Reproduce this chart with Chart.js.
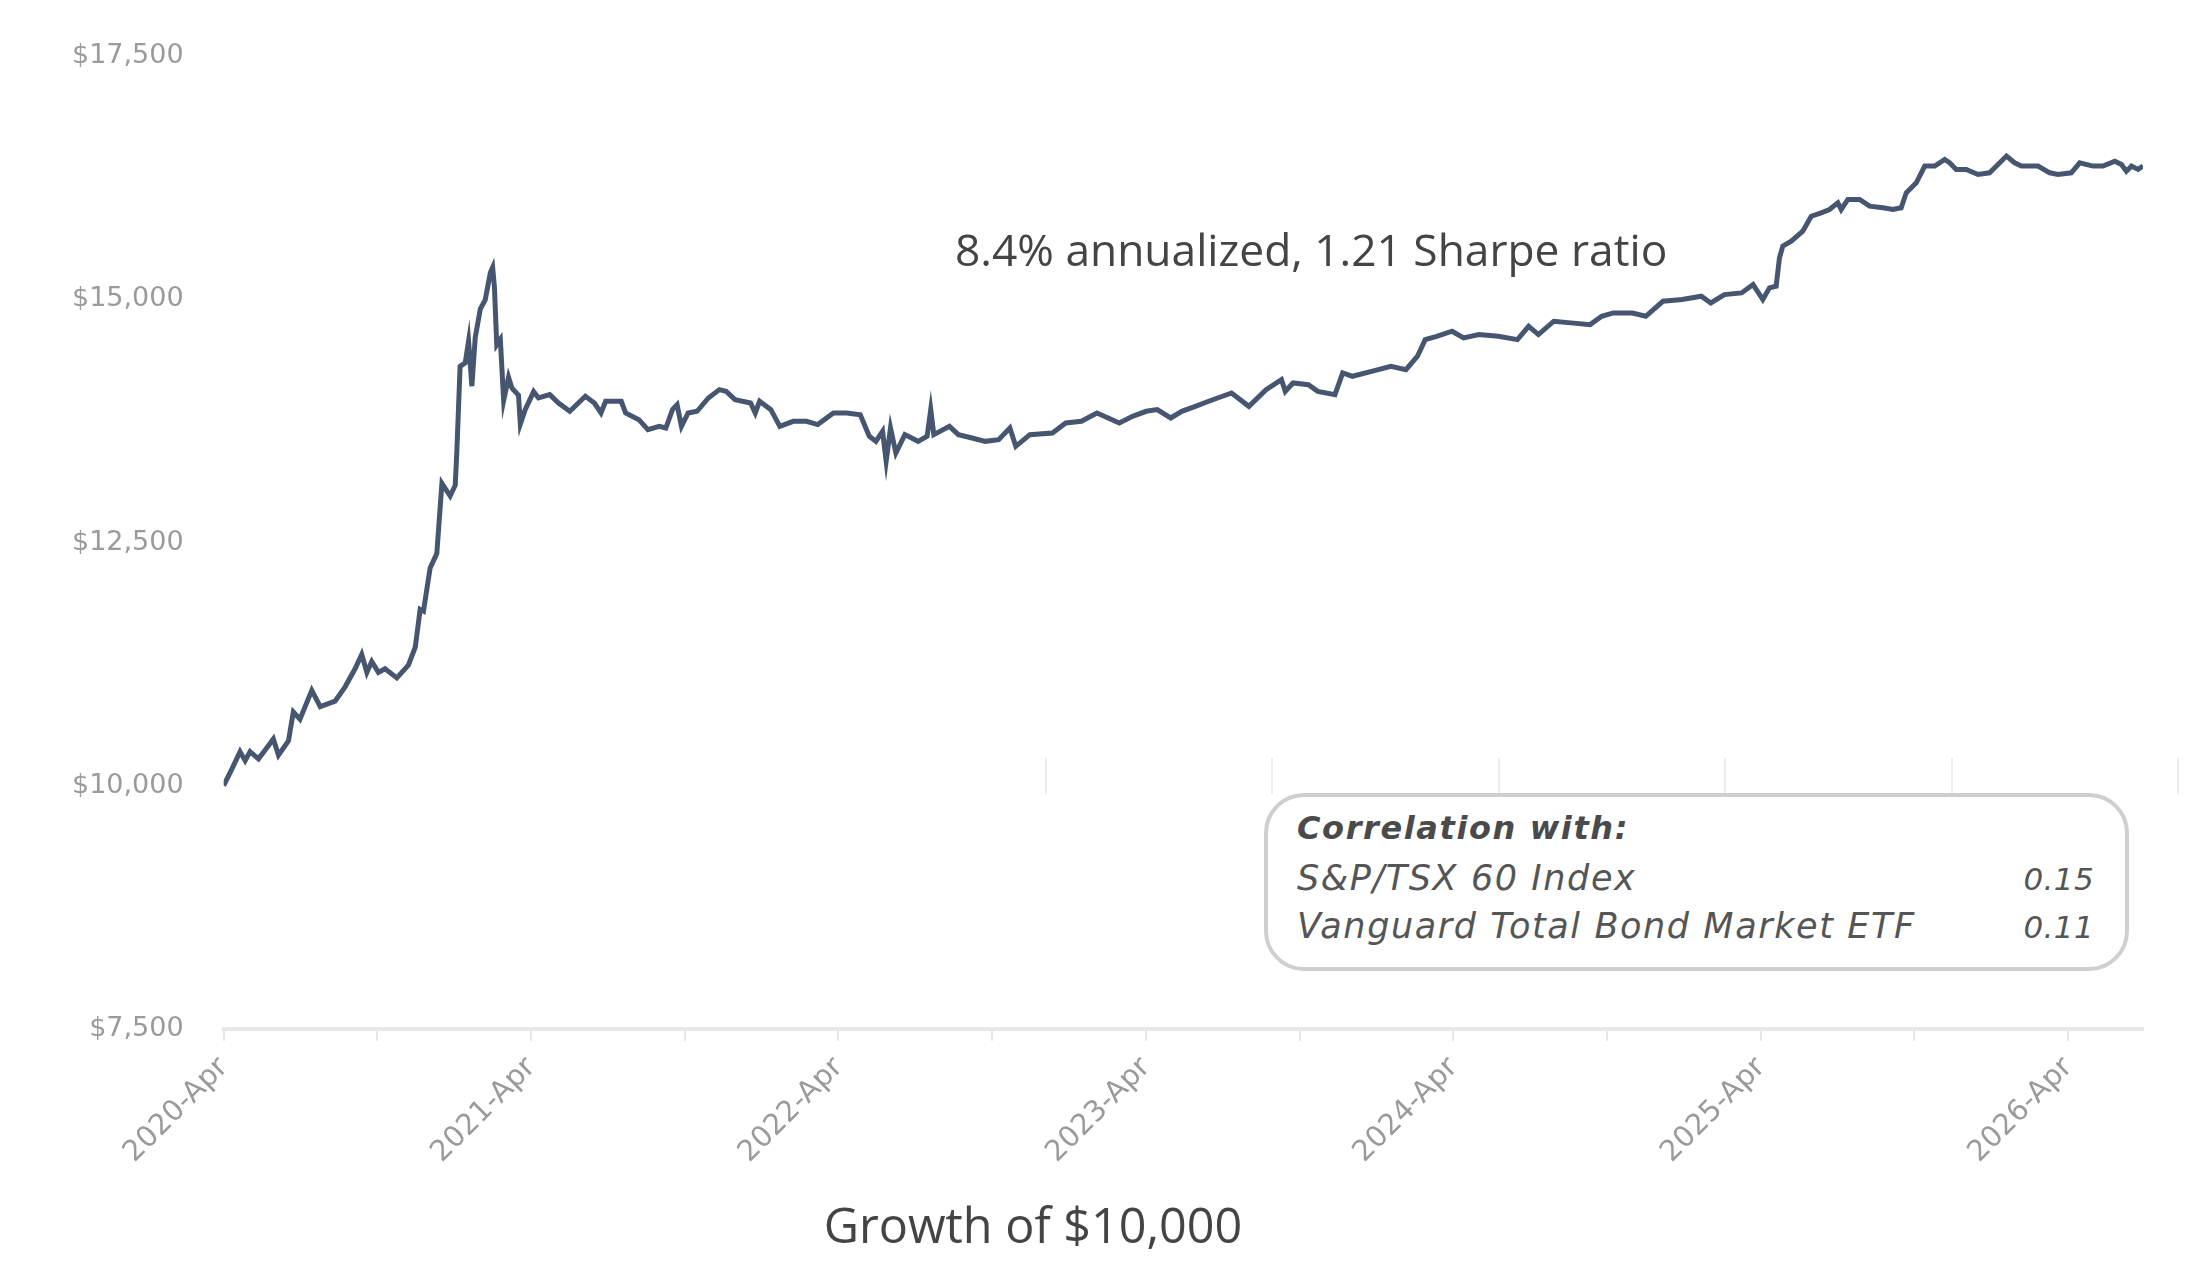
<!DOCTYPE html>
<html>
<head>
    <title>Growth of $10,000</title>
    <meta charset="UTF-8">
    <style>
        html, body { margin: 0; padding: 0; background: #fff; }
        #wrap { position: relative; width: 2208px; height: 1278px; overflow: hidden; }
        #growthChart { position: absolute; left: 0; top: 0; }
        .note { position: absolute; font-family: "Open Sans", sans-serif; color: #444; white-space: nowrap; }
        #sharpe { left: 955px; top: 219px; font-size: 44.3px; }
        #title { left: 0; width: 2066px; top: 1191px; font-size: 48.5px; text-align: center; }
        #ghostGrid {
            position: absolute; left: 1045px; top: 758px; width: 1135px; height: 36px;
            background: repeating-linear-gradient(to right, #ececec 0, #ececec 2px, transparent 2px, transparent 226.5px);
        }
        #corr {
            position: absolute; left: 1264px; top: 793px; width: 865px; height: 178px;
            box-sizing: border-box; border: 4px solid #cfcfcf; border-radius: 40px; background: #fff;
            padding: 8px 31px 0 29px;
            font-family: "DejaVu Sans", sans-serif; font-style: italic; color: #555;
            font-size: 35px; line-height: 47px; letter-spacing: 1.6px;
        }
        #corr .head { font-weight: bold; font-size: 32px; margin-bottom: 3px; color: #4a4a4a; }
        #corr .row { display: flex; justify-content: space-between; align-items: baseline; }
        #corr .num { font-size: 31px; letter-spacing: 0.4px; }
    </style>
</head>
<body>
<div id="wrap">
    <canvas id="growthChart" width="2208" height="1278"></canvas>
    <div class="note" id="sharpe">8.4% annualized, 1.21 Sharpe ratio</div>
    <div id="ghostGrid"></div>
    <div id="corr">
        <div class="head">Correlation with:</div>
        <div class="row"><span id="idx1"></span><span class="num" id="val1"></span></div>
        <div class="row"><span id="idx2"></span><span class="num" id="val2"></span></div>
    </div>
    <div class="note" id="title">Growth of $10,000</div>
</div>
<script src="https://cdn.jsdelivr.net/npm/chart.js@4.4.1/dist/chart.umd.min.js"></script>
<script>
    // months after 2020-Apr
    var months = [
        0, 0.31, 0.64, 0.84, 1.03, 1.36, 1.68, 1.94, 2.14, 2.53, 2.72, 2.98, 3.44, 3.77, 4.35, 4.74,
        5.13, 5.39, 5.59, 5.78, 6.04, 6.3, 6.76, 7.21, 7.48, 7.67, 7.8, 8.06, 8.32, 8.52, 8.84, 9.04,
        9.1, 9.23, 9.43, 9.56, 9.69, 9.82, 10.02, 10.21, 10.41, 10.5, 10.57, 10.66, 10.8, 10.93, 11.12, 11.25,
        11.51, 11.58, 11.77, 12.1, 12.29, 12.73, 13.07, 13.51, 14.12, 14.47, 14.73, 14.91, 15.52, 15.69, 16.21, 16.56,
        17.0, 17.26, 17.52, 17.7, 17.87, 18.13, 18.48, 18.92, 19.35, 19.61, 19.96, 20.57, 20.75, 20.92, 21.36, 21.71,
        22.23, 22.75, 23.19, 23.8, 24.32, 24.85, 25.2, 25.46, 25.72, 25.86, 26.03, 26.24, 26.59, 27.11, 27.46, 27.6,
        27.72, 28.33, 28.68, 29.21, 29.73, 30.25, 30.69, 30.92, 31.47, 32.35, 32.87, 33.48, 34.09, 34.96, 35.48, 36.01,
        36.44, 36.97, 37.4, 37.93, 38.45, 39.34, 40.02, 40.69, 41.29, 41.44, 41.74, 42.34, 42.71, 43.38, 43.68, 44.06,
        44.81, 45.56, 46.15, 46.6, 46.9, 47.35, 47.95, 48.4, 49.0, 49.75, 50.5, 50.94, 51.32, 51.92, 52.59, 53.34,
        53.79, 54.24, 54.99, 55.51, 56.18, 56.93, 57.68, 58.05, 58.58, 59.25, 59.7, 60.08, 60.34, 60.6, 60.73, 60.86,
        61.19, 61.64, 61.97, 62.36, 62.68, 63.01, 63.14, 63.4, 63.86, 64.25, 64.77, 65.16, 65.48, 65.68, 66.07, 66.4,
        66.79, 67.18, 67.37, 67.63, 68.02, 68.48, 68.93, 69.26, 69.59, 69.91, 70.17, 70.82, 71.28, 71.6, 72.12, 72.45,
        72.97, 73.36, 73.82, 74.08, 74.27, 74.47, 74.73, 74.92
    ];
    var growth = [
        10000, 10165, 10350, 10257, 10350, 10276, 10387, 10480, 10313, 10461, 10757, 10683, 10980, 10813, 10868, 11016,
        11201, 11349, 11164, 11276, 11164, 11201, 11108, 11238, 11423, 11812, 11794, 12238, 12385, 13108, 12978, 13089,
        13422, 14311, 14348, 14570, 14107, 14607, 14902, 14995, 15273, 15328, 15124, 14533, 14588, 13959, 14199, 14088,
        14014, 13718, 13866, 14051, 13986, 14020, 13934, 13849, 14003, 13934, 13832, 13952, 13952, 13832, 13763, 13660,
        13694, 13677, 13866, 13917, 13694, 13832, 13849, 13986, 14072, 14055, 13969, 13934, 13832, 13952, 13866, 13694,
        13746, 13746, 13712, 13832, 13832, 13814, 13592, 13540, 13643, 13334, 13677, 13420, 13609, 13540, 13592, 13866,
        13609, 13694, 13609, 13574, 13540, 13557, 13677, 13489, 13609, 13626, 13729, 13746, 13832, 13729, 13797, 13849,
        13866, 13780, 13849, 13900, 13952, 14037, 13900, 14072, 14174, 14054, 14140, 14123, 14054, 14020, 14243, 14209,
        14260, 14312, 14277, 14415, 14586, 14620, 14672, 14603, 14638, 14620, 14586, 14723, 14638, 14775, 14758, 14740,
        14826, 14860, 14860, 14826, 14980, 14998, 15032, 14963, 15049, 15066, 15152, 14998, 15118, 15135, 15427, 15547,
        15598, 15701, 15855, 15890, 15924, 15993, 15924, 16027, 16027, 15958, 15941, 15924, 15941, 16096, 16198, 16370,
        16370, 16438, 16404, 16336, 16336, 16284, 16301, 16387, 16473, 16404, 16370, 16370, 16301, 16284, 16301, 16404,
        16370, 16370, 16421, 16387, 16318, 16370, 16336, 16370
    ];
    var yearLabels = ['2020-Apr', '2021-Apr', '2022-Apr', '2023-Apr', '2024-Apr', '2025-Apr', '2026-Apr'];
    var yMin = 7500, yMax = 17500, yStep = 2500;
    var corrNames = ['S&P/TSX 60 Index', 'Vanguard Total Bond Market ETF'];
    var corrValues = ['0.15', '0.11'];

    document.getElementById('idx1').textContent = corrNames[0];
    document.getElementById('val1').textContent = corrValues[0];
    document.getElementById('idx2').textContent = corrNames[1];
    document.getElementById('val2').textContent = corrValues[1];

    var points = [];
    for (let i = 0; i < months.length; i++) {
        points.push({x: months[i], y: growth[i]});
    }

    var ctx = document.getElementById('growthChart').getContext('2d');
    let growthChart = new Chart(ctx, {
        type: 'line',
        data: {
            datasets: [
                {
                    data: points,
                    borderColor: '#465670',
                    borderWidth: 5,
                    pointRadius: 0,
                    tension: 0,
                    fill: false
                }
            ]
        },
        options: {
            responsive: false,
            animation: false,
            layout: {padding: {left: 32, right: 65, top: 39, bottom: 98}},
            plugins: {legend: {display: false}, tooltip: {enabled: false}},
            scales: {
                x: {
                    type: 'linear',
                    min: 0,
                    max: months[months.length - 1],
                    border: {display: true, color: '#e8e8e8', width: 4},
                    grid: {drawOnChartArea: false, drawTicks: true, tickLength: 12, color: '#e6e6e6', lineWidth: 2},
                    ticks: {
                        stepSize: 6,
                        includeBounds: false,
                        autoSkip: false,
                        minRotation: 45,
                        maxRotation: 45,
                        padding: 10,
                        color: '#9a9a9a',
                        font: {family: 'DejaVu Sans', size: 29},
                        callback: function (value) {
                            return value % 12 === 0 ? yearLabels[value / 12] : '';
                        }
                    }
                },
                y: {
                    min: yMin,
                    max: yMax,
                    border: {display: false},
                    grid: {display: false, drawTicks: false},
                    ticks: {
                        stepSize: yStep,
                        padding: 40,
                        color: '#9a9a9a',
                        font: {family: 'DejaVu Sans', size: 27},
                        callback: function (value) {
                            return '$' + value.toLocaleString('en-US');
                        }
                    }
                }
            }
        }
    });
</script>
</body>
</html>
